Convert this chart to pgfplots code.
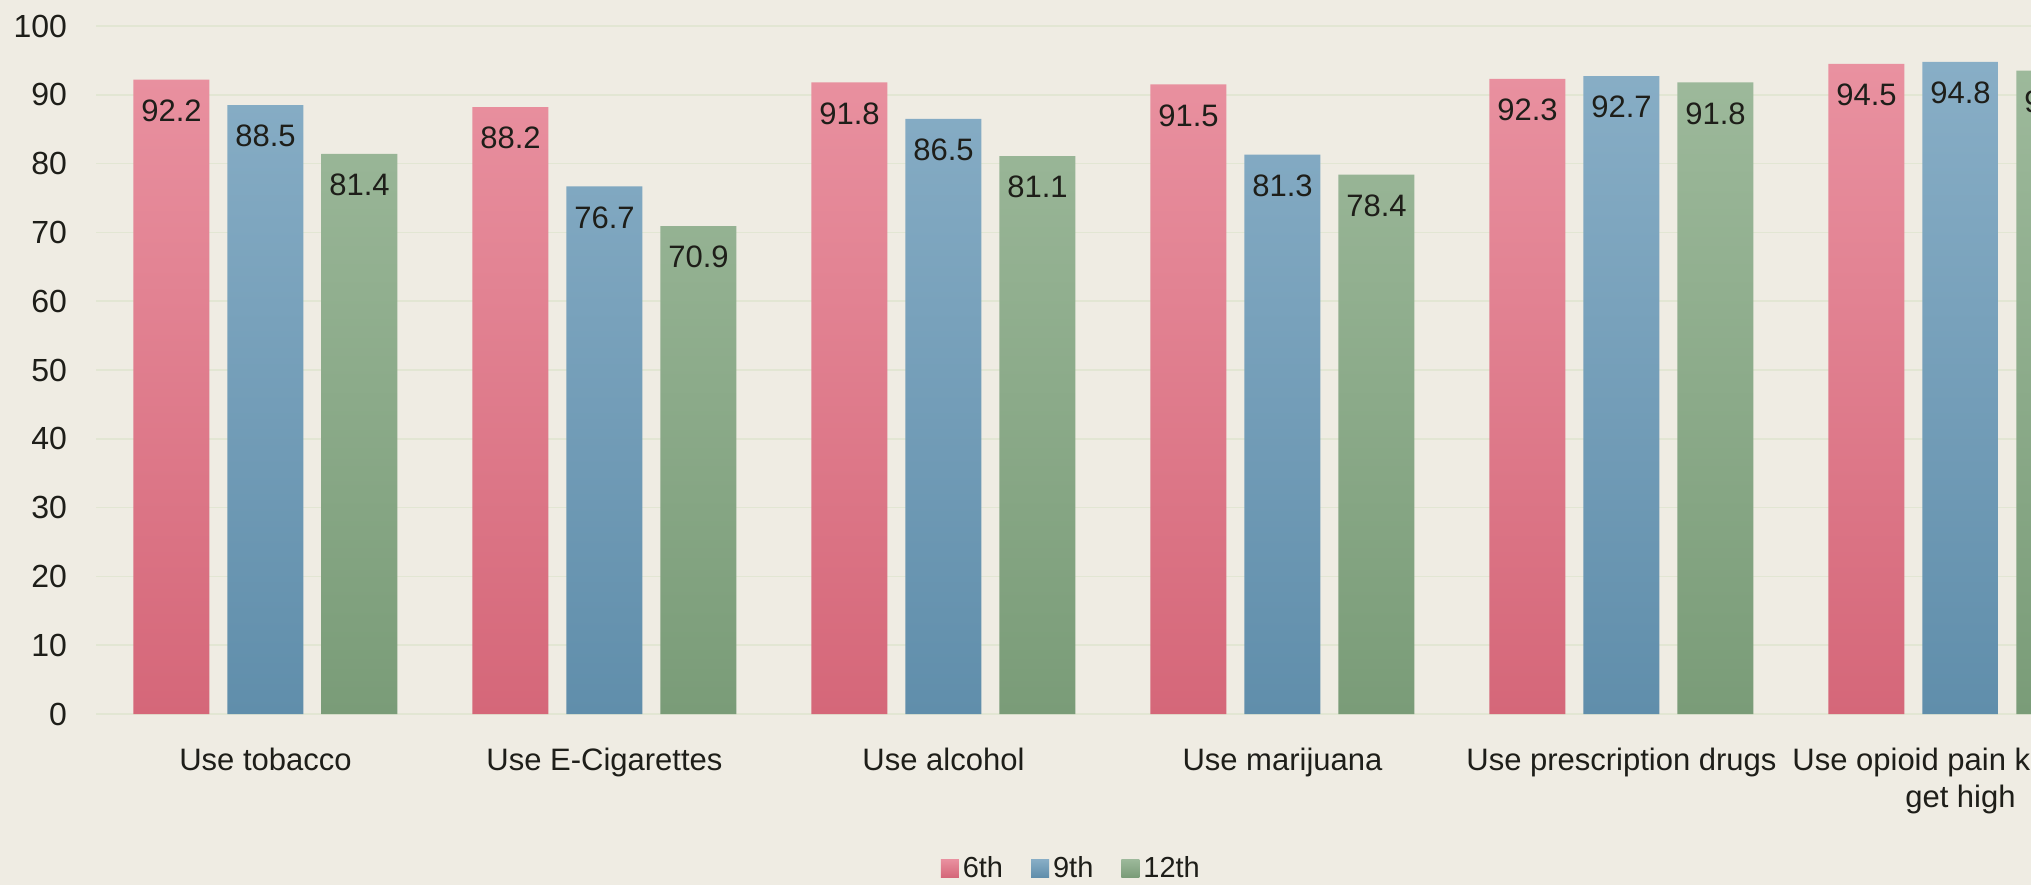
\documentclass[border=0pt]{standalone}
\usepackage{pgfplots}
\pgfplotsset{compat=1.18}
\usepackage{fontspec}
\setmainfont{Liberation Sans}
\definecolor{bg}{RGB}{239,236,227}
\definecolor{gridc}{RGB}{226,230,211}
\definecolor{txt}{RGB}{30,30,25}
\definecolor{pinkT}{RGB}{233,145,160}
\definecolor{pinkB}{RGB}{213,103,121}
\definecolor{blueT}{RGB}{136,174,198}
\definecolor{blueB}{RGB}{96,142,171}
\definecolor{greenT}{RGB}{157,185,155}
\definecolor{greenB}{RGB}{122,156,120}
\begin{document}
\begin{tikzpicture}
\fill[bg] (0,0) rectangle (1015.5pt,442.5pt);
\begin{scope}
\clip (0,0) rectangle (1015.5pt,442.5pt);
\begin{axis}[
  at={(48pt,85.5pt)}, anchor=south west,
  scale only axis, width=1017pt, height=344pt,
  xmin=-0.5, xmax=5.5, ymin=0, ymax=100,
  ybar=9pt, bar width=38pt,
  axis line style={draw=none},
  major tick length=0pt,
  ytick={0,10,...,100},
  ymajorgrids, grid style={gridc, line width=0.8pt},
  xtick={0,1,2,3,4,5},
  xticklabels={Use tobacco, Use E-Cigarettes, Use alcohol, Use marijuana, Use prescription drugs, {Use opioid pain killers to\\get high}},
  xticklabel style={align=center, font=\fontsize{15.5}{18.5}\selectfont, text=txt, yshift=-13.5pt},
  yticklabel style={font=\fontsize{16}{18.5}\selectfont, text=txt, xshift=-11pt},
  /pgf/number format/assume math mode=true,
  nodes near coords,
  nodes near coords style={/pgf/number format/fixed, /pgf/number format/precision=1, /pgf/number format/fixed zerofill, /pgf/number format/assume math mode=true},
  every node near coord/.append style={anchor=north, yshift=-6.5pt, font=\fontsize{15.5}{18.5}\selectfont, text=txt},
  legend style={at={(0.480,-0.224)}, anchor=center, draw=none, fill=none, legend columns=-1, font=\fontsize{14.5}{16}\selectfont, text=txt,
    /tikz/every even column/.append style={column sep=12pt}},
  legend image code/.code={\path[#1] (0pt,-4.5pt) rectangle (9pt,4.5pt);},
]
\addplot[draw=none, top color=pinkT, bottom color=pinkB] coordinates {(0,92.2) (1,88.2) (2,91.8) (3,91.5) (4,92.3) (5,94.5)};
\addplot[draw=none, top color=blueT, bottom color=blueB] coordinates {(0,88.5) (1,76.7) (2,86.5) (3,81.3) (4,92.7) (5,94.8)};
\addplot[draw=none, top color=greenT, bottom color=greenB] coordinates {(0,81.4) (1,70.9) (2,81.1) (3,78.4) (4,91.8) (5,93.5)};
\legend{6th, 9th, 12th}
\end{axis}
\end{scope}
\pgfresetboundingbox
\path[use as bounding box] (0,0) rectangle (1015.5pt,442.5pt);
\end{tikzpicture}
\end{document}
